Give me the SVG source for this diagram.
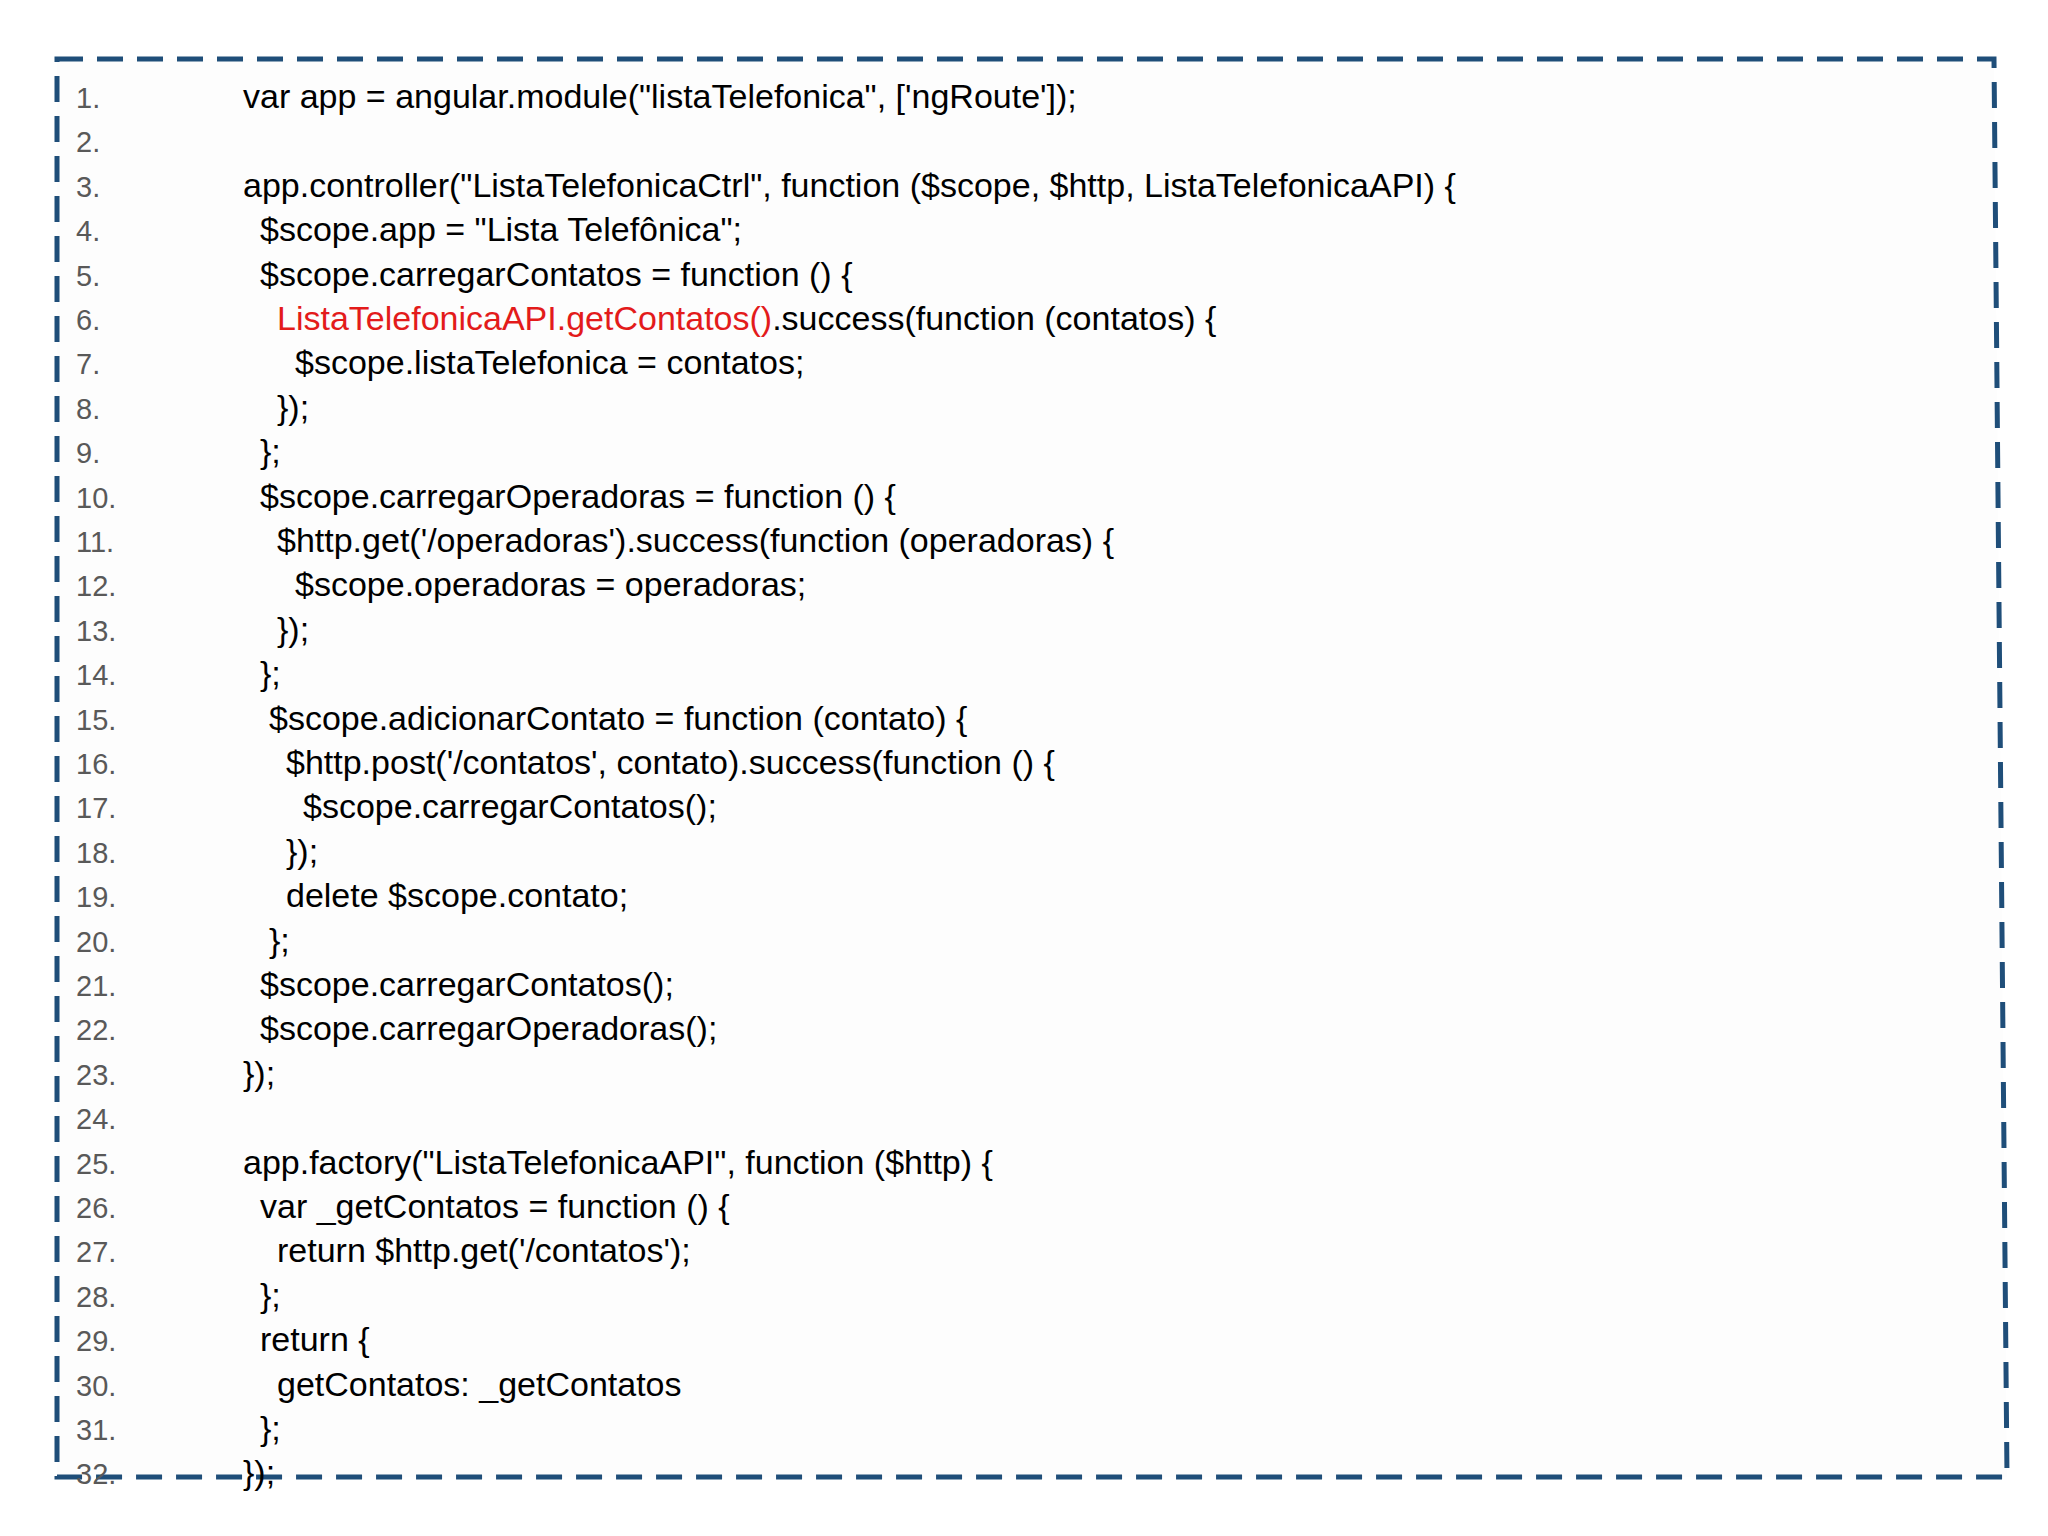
<svg xmlns="http://www.w3.org/2000/svg" width="2048" height="1536" viewBox="0 0 2048 1536">
<style>
.n{font-family:"Liberation Sans",Arial,sans-serif;font-size:29px;fill:#595959}
.c{font-family:"Liberation Sans",Arial,sans-serif;font-size:34px;fill:#000}
.r{fill:#e31b1b}
</style>
<rect width="2048" height="1536" fill="#fff"/>
<g id="frame"><path d="M57 59 L1994 59 L2007 1477 L57 1477 Z" fill="#fdfdfd" stroke="#1f4e79" stroke-width="5" stroke-dasharray="26 14"/></g>
<g id="numbers">
<text class="n" x="76" y="108">1.</text><text class="n" x="76" y="152">2.</text><text class="n" x="76" y="197">3.</text><text class="n" x="76" y="241">4.</text><text class="n" x="76" y="286">5.</text><text class="n" x="76" y="330">6.</text><text class="n" x="76" y="374">7.</text><text class="n" x="76" y="419">8.</text><text class="n" x="76" y="463">9.</text><text class="n" x="76" y="508">10.</text><text class="n" x="76" y="552">11.</text><text class="n" x="76" y="596">12.</text><text class="n" x="76" y="641">13.</text><text class="n" x="76" y="685">14.</text><text class="n" x="76" y="730">15.</text><text class="n" x="76" y="774">16.</text><text class="n" x="76" y="818">17.</text><text class="n" x="76" y="863">18.</text><text class="n" x="76" y="907">19.</text><text class="n" x="76" y="952">20.</text><text class="n" x="76" y="996">21.</text><text class="n" x="76" y="1040">22.</text><text class="n" x="76" y="1085">23.</text><text class="n" x="76" y="1129">24.</text><text class="n" x="76" y="1174">25.</text><text class="n" x="76" y="1218">26.</text><text class="n" x="76" y="1262">27.</text><text class="n" x="76" y="1307">28.</text><text class="n" x="76" y="1351">29.</text><text class="n" x="76" y="1396">30.</text><text class="n" x="76" y="1440">31.</text><text class="n" x="76" y="1484">32.</text>
</g>
<g id="code">
<text class="c" x="243" y="108">var app = angular.module("listaTelefonica", ['ngRoute']);</text>
<text class="c" x="243" y="197">app.controller("ListaTelefonicaCtrl", function ($scope, $http, ListaTelefonicaAPI) {</text>
<text class="c" x="260" y="241">$scope.app = "Lista Telefônica";</text>
<text class="c" x="260" y="286">$scope.carregarContatos = function () {</text>
<text class="c" x="277" y="330"><tspan class="r">ListaTelefonicaAPI.getContatos()</tspan>.success(function (contatos) {</text>
<text class="c" x="295" y="374">$scope.listaTelefonica = contatos;</text>
<text class="c" x="277" y="419">});</text>
<text class="c" x="260" y="463">};</text>
<text class="c" x="260" y="508">$scope.carregarOperadoras = function () {</text>
<text class="c" x="277" y="552">$http.get('/operadoras').success(function (operadoras) {</text>
<text class="c" x="295" y="596">$scope.operadoras = operadoras;</text>
<text class="c" x="277" y="641">});</text>
<text class="c" x="260" y="685">};</text>
<text class="c" x="269" y="730">$scope.adicionarContato = function (contato) {</text>
<text class="c" x="286" y="774">$http.post('/contatos', contato).success(function () {</text>
<text class="c" x="303" y="818">$scope.carregarContatos();</text>
<text class="c" x="286" y="863">});</text>
<text class="c" x="286" y="907">delete $scope.contato;</text>
<text class="c" x="269" y="952">};</text>
<text class="c" x="260" y="996">$scope.carregarContatos();</text>
<text class="c" x="260" y="1040">$scope.carregarOperadoras();</text>
<text class="c" x="243" y="1085">});</text>
<text class="c" x="243" y="1174">app.factory("ListaTelefonicaAPI", function ($http) {</text>
<text class="c" x="260" y="1218">var _getContatos = function () {</text>
<text class="c" x="277" y="1262">return $http.get('/contatos');</text>
<text class="c" x="260" y="1307">};</text>
<text class="c" x="260" y="1351">return {</text>
<text class="c" x="277" y="1396">getContatos: _getContatos</text>
<text class="c" x="260" y="1440">};</text>
<text class="c" x="243" y="1484">});</text>
</g>
</svg>
